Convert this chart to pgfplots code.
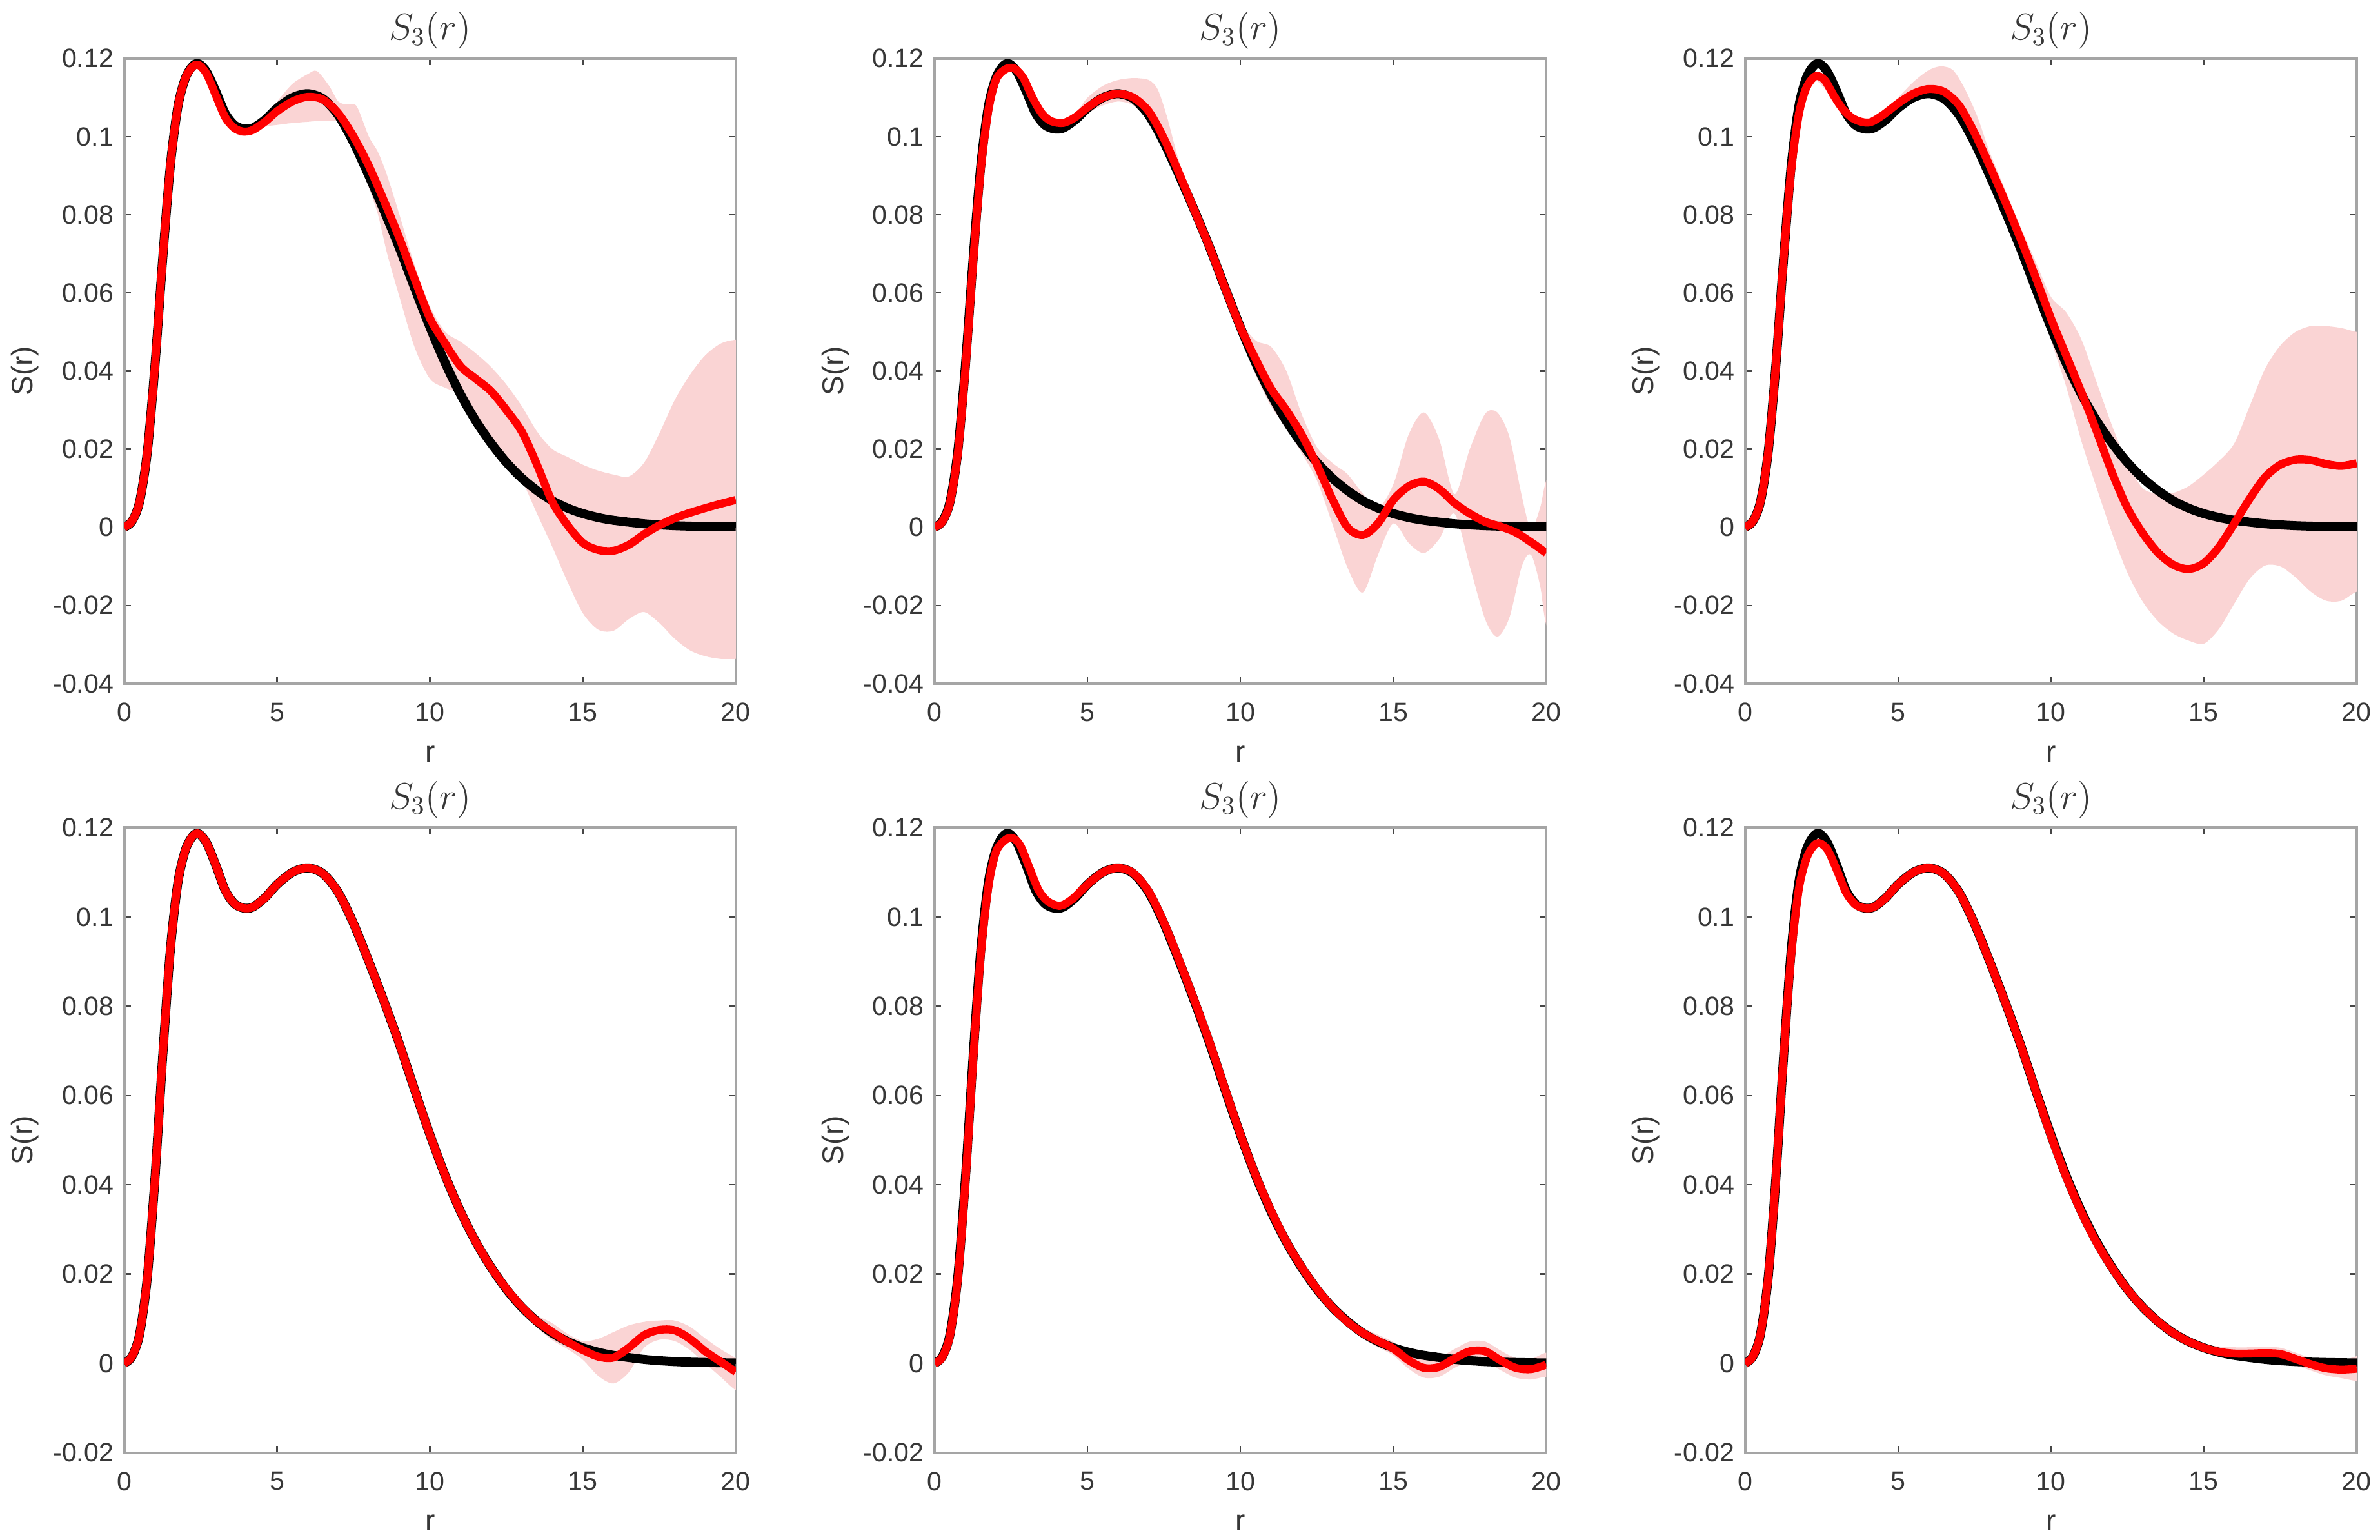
\documentclass[border=0pt]{standalone}
\usepackage{fontspec}
\setmainfont{Liberation Sans}
\usepackage{pgfplots}
\pgfplotsset{compat=1.18}

\definecolor{bandc}{RGB}{250,212,212}
\definecolor{axgray}{RGB}{165,165,165}
\definecolor{tickgray}{RGB}{70,70,70}
\definecolor{labgray}{RGB}{55,55,55}

\pgfplotsset{
  every axis title shift=0pt,
  panel/.style={
    scale only axis,
    width=237.5pt, height=242.75pt,
    anchor=south west,
    xmin=0, xmax=20,
    xtick={0,5,10,15,20},
    xticklabels={0,5,10,15,20},
    scaled ticks=false,
    axis line style={draw=axgray, line width=1pt},
    tick style={draw=tickgray, line width=0.6pt},
    major tick length=2.5pt,
    tick align=inside,
    xticklabel style={font=\fontsize{10.3}{12}\selectfont, text=labgray, yshift=-4pt},
    yticklabel style={font=\fontsize{10.3}{12}\selectfont, text=labgray, xshift=-0.6pt},
    xlabel={r}, ylabel={S(r)},
    xlabel style={at={(rel axis cs:0.5,-0.1125)}, anchor=center, font=\fontsize{11.5}{13}\selectfont, text=labgray},
    ylabel style={at={(rel axis cs:-0.162,0.5)}, anchor=center, font=\fontsize{11.5}{13}\selectfont, text=labgray},
    title={$S_3(r)$},
    title style={at={(rel axis cs:0.5,1.045)}, anchor=center, font=\fontsize{14}{16}\selectfont, text=labgray},
  },
  toprow/.style={
    ymin=-0.04, ymax=0.12,
    ytick={-0.04,-0.02,0,0.02,0.04,0.06,0.08,0.1,0.12},
    yticklabels={-0.04,-0.02,0,0.02,0.04,0.06,0.08,0.1,0.12},
  },
  botrow/.style={
    ymin=-0.02, ymax=0.12,
    ytick={-0.02,0,0.02,0.04,0.06,0.08,0.1,0.12},
    yticklabels={-0.02,0,0.02,0.04,0.06,0.08,0.1,0.12},
  },
  blkl/.style={black, line width=3.5pt, smooth},
  redl/.style={red, line width=3.1pt, smooth},
  bandf/.style={fill=bandc, draw=none, smooth},
}

\begin{document}
\begin{tikzpicture}
\path (0,0) rectangle (922.5pt,597pt);

% ================= panel 1 =================
\begin{axis}[panel, toprow, at={(48.25pt,331.5pt)}]
\addplot[bandf] table {
-0.8 0.0005
0 0.0005
0.5 0.007
1.0 0.042
1.5 0.093
2.0 0.116
2.45 0.1192
3.0 0.1115
3.6 0.1032
4.0 0.1025
4.6 0.1050
5.0 0.1090
5.5 0.1135
6.0 0.1160
6.3 0.1168
6.7 0.1130
7.0 0.1090
7.3 0.1082
7.6 0.1078
8.0 0.1000
8.3 0.0960
8.6 0.0900
9.0 0.0800
9.5 0.0670
10.0 0.0565
10.5 0.0500
11.0 0.0475
11.5 0.0445
12.0 0.0410
12.5 0.0365
13.0 0.0310
13.5 0.0245
14.0 0.0200
14.5 0.0180
15.0 0.0160
15.5 0.0145
16.0 0.0135
16.5 0.0130
17.0 0.0165
17.5 0.0240
18.0 0.0325
18.5 0.0390
19.0 0.0440
19.5 0.0470
20.0 0.0480
20.8 0.0480
20.8 -0.0337
20.0 -0.0337
19.5 -0.0337
19.0 -0.0330
18.5 -0.0315
18.0 -0.0285
17.5 -0.0245
17.0 -0.0217
16.5 -0.0235
16.0 -0.0265
15.5 -0.0262
15.0 -0.0220
14.5 -0.0140
14.0 -0.0050
13.5 0.0035
13.0 0.0120
12.5 0.0170
12.0 0.0225
11.5 0.0290
11.0 0.0340
10.5 0.0357
10.0 0.0380
9.5 0.0460
9.0 0.0590
8.6 0.0700
8.3 0.0800
8.0 0.0870
7.6 0.0960
7.3 0.1020
7.0 0.1040
6.7 0.1040
6.3 0.1040
6.0 0.1038
5.5 0.1035
5.0 0.1030
4.6 0.1025
4.0 0.1003
3.6 0.1012
3.0 0.1095
2.45 0.1175
2.0 0.114
1.5 0.091
1.0 0.040
0.5 0.006
0 -0.0005
-0.8 -0.0005
};
\addplot[blkl] table {
0 0
0.25 0.0015
0.5 0.0065
0.75 0.019
1.0 0.041
1.25 0.068
1.5 0.092
1.75 0.1075
2.0 0.1150
2.25 0.1182
2.45 0.1186
2.7 0.1165
3.0 0.1115
3.3 0.1060
3.6 0.1030
3.9 0.1020
4.2 0.1022
4.6 0.1043
5.0 0.1073
5.5 0.1100
6.0 0.1110
6.5 0.1097
7.0 0.1055
7.5 0.0985
8.0 0.0900
8.5 0.0810
9.0 0.0715
9.5 0.0612
10.0 0.0512
10.5 0.0420
11.0 0.0340
11.5 0.0272
12.0 0.0215
12.5 0.0166
13.0 0.0126
13.5 0.0094
14.0 0.0068
14.5 0.0049
15.0 0.0035
15.5 0.0025
16.0 0.0018
17.0 0.0009
18.0 0.0004
19.0 0.0002
20.0 0.0001
};
\addplot[redl] table {
0 0
0.25 0.0015
0.5 0.0065
0.75 0.019
1.0 0.041
1.25 0.068
1.5 0.092
1.75 0.1075
2.0 0.1150
2.25 0.1180
2.45 0.1183
2.7 0.1160
3.0 0.1105
3.3 0.1050
3.6 0.1022
3.9 0.1013
4.2 0.1017
4.6 0.1038
5.0 0.1065
5.5 0.1090
6.0 0.1102
6.5 0.1095
7.0 0.1060
7.5 0.1000
8.0 0.0925
8.5 0.0835
9.0 0.0740
9.5 0.0635
10.0 0.0535
10.5 0.0470
11.0 0.0412
11.5 0.0380
12.0 0.0348
12.5 0.0300
13.0 0.0245
13.5 0.0160
14.0 0.0065
14.5 0.0005
15.0 -0.0040
15.5 -0.0058
16.0 -0.0060
16.5 -0.0045
17.0 -0.0018
17.5 0.0005
18.0 0.0023
18.5 0.0037
19.0 0.0049
19.5 0.0060
20.0 0.0070
};
\end{axis}

% ================= panel 2 =================
\begin{axis}[panel, toprow, at={(363pt,331.5pt)}]
\addplot[bandf] table {
-0.8 0.0005
0 0.0005
0.5 0.0065
1.0 0.041
1.5 0.091
2.0 0.1150
2.6 0.1185
3.2 0.111
3.8 0.105
4.2 0.1045
4.6 0.106
5.0 0.110
5.5 0.113
6.0 0.1145
6.5 0.1150
7.0 0.1145
7.3 0.112
7.6 0.105
8.0 0.0935
8.5 0.0835
9.0 0.0740
9.5 0.0635
10.0 0.0530
10.5 0.0478
11.0 0.0462
11.5 0.0400
12.0 0.0290
12.5 0.0205
13.0 0.0165
13.5 0.0136
14.0 0.0086
14.5 0.0050
15.0 0.0110
15.5 0.0237
16.0 0.0294
16.5 0.0225
17.0 0.0085
17.5 0.0200
18.0 0.0290
18.4 0.0294
18.8 0.0230
19.2 0.0080
19.5 -0.0005
19.8 0.0050
20.0 0.0120
20.6 0.0250
20.6 -0.0400
20.0 -0.0250
19.8 -0.0150
19.5 -0.0070
19.2 -0.0100
18.8 -0.0230
18.4 -0.0280
18.0 -0.0235
17.5 -0.0100
17.0 0.0035
16.5 -0.0030
16.0 -0.0066
15.5 -0.0040
15.0 0.0010
14.5 -0.0070
14.0 -0.0167
13.5 -0.0103
13.0 0.0010
12.5 0.0120
12.0 0.0190
11.5 0.0255
11.0 0.0310
10.5 0.0390
10.0 0.0485
9.5 0.0590
9.0 0.0700
8.5 0.0795
8.0 0.0885
7.6 0.097
7.3 0.101
7.0 0.104
6.5 0.108
6.0 0.109
5.5 0.108
5.0 0.106
4.6 0.104
4.2 0.1025
3.8 0.103
3.2 0.109
2.6 0.1165
2.0 0.1135
1.5 0.089
1.0 0.039
0.5 0.0055
0 -0.0005
-0.8 -0.0005
};
\addplot[blkl] table {
0 0
0.25 0.0015
0.5 0.0065
0.75 0.019
1.0 0.041
1.25 0.068
1.5 0.092
1.75 0.1075
2.0 0.1150
2.25 0.1182
2.45 0.1186
2.7 0.1165
3.0 0.1115
3.3 0.1060
3.6 0.1030
3.9 0.1020
4.2 0.1022
4.6 0.1043
5.0 0.1073
5.5 0.1100
6.0 0.1110
6.5 0.1097
7.0 0.1055
7.5 0.0985
8.0 0.0900
8.5 0.0810
9.0 0.0715
9.5 0.0612
10.0 0.0512
10.5 0.0420
11.0 0.0340
11.5 0.0272
12.0 0.0215
12.5 0.0166
13.0 0.0126
13.5 0.0094
14.0 0.0068
14.5 0.0049
15.0 0.0035
15.5 0.0025
16.0 0.0018
17.0 0.0009
18.0 0.0004
19.0 0.0002
20.0 0.0001
};
\addplot[redl] table {
0 0
0.25 0.0014
0.5 0.0063
0.75 0.0185
1.0 0.040
1.25 0.0670
1.5 0.0910
1.75 0.1065
2.0 0.1145
2.3 0.1172
2.6 0.1175
2.9 0.1150
3.2 0.1100
3.5 0.1060
3.8 0.1040
4.2 0.1035
4.6 0.1050
5.0 0.1075
5.5 0.1100
6.0 0.1110
6.5 0.1100
7.0 0.1065
7.5 0.0995
8.0 0.0905
8.5 0.0810
9.0 0.0715
9.5 0.0612
10.0 0.0512
10.5 0.0430
11.0 0.0355
11.5 0.0300
12.0 0.0237
12.5 0.0160
13.0 0.0073
13.5 0.0000
14.0 -0.0020
14.5 0.0010
15.0 0.0070
15.5 0.0105
16.0 0.0117
16.5 0.0098
17.0 0.0062
17.5 0.0035
18.0 0.0014
18.5 0.0002
19.0 -0.0013
19.5 -0.0038
20.0 -0.0066
};
\end{axis}

% ================= panel 3 =================
\begin{axis}[panel, toprow, at={(677.75pt,331.5pt)}]
\addplot[bandf] table {
-0.8 0.0005
0 0.0005
0.5 0.007
1.0 0.042
1.5 0.092
2.0 0.1135
2.3 0.1165
2.9 0.1115
3.5 0.1058
4.1 0.1047
4.6 0.1070
5.0 0.1100
5.5 0.1140
6.0 0.1170
6.4 0.1180
6.8 0.1170
7.2 0.1120
7.6 0.1050
8.0 0.0960
8.5 0.0865
9.0 0.0770
9.5 0.0680
10.0 0.0590
10.5 0.0550
11.0 0.0480
11.5 0.0370
12.0 0.0260
12.5 0.0165
13.0 0.0100
13.5 0.0086
14.0 0.0088
14.5 0.0105
15.0 0.0135
15.5 0.0170
16.0 0.0215
16.5 0.0310
17.0 0.0405
17.5 0.0465
18.0 0.0500
18.5 0.0515
19.0 0.0515
19.5 0.0510
20.0 0.0500
20.8 0.0490
20.8 -0.0150
20.0 -0.0165
19.5 -0.0188
19.0 -0.0188
18.5 -0.0165
18.0 -0.0128
17.5 -0.0100
17.0 -0.0098
16.5 -0.0132
16.0 -0.0195
15.5 -0.0260
15.0 -0.0298
14.5 -0.0290
14.0 -0.0272
13.5 -0.0240
13.0 -0.0190
12.5 -0.0116
12.0 -0.0015
11.5 0.0100
11.0 0.0220
10.5 0.0360
10.0 0.0480
9.5 0.0610
9.0 0.0715
8.5 0.0810
8.0 0.0900
7.6 0.0970
7.2 0.1030
6.8 0.1080
6.4 0.1100
6.0 0.1100
5.5 0.1090
5.0 0.1070
4.6 0.1045
4.1 0.1027
3.5 0.1038
2.9 0.1095
2.3 0.1145
2.0 0.1115
1.5 0.090
1.0 0.040
0.5 0.006
0 -0.0005
-0.8 -0.0005
};
\addplot[blkl] table {
0 0
0.25 0.0015
0.5 0.0065
0.75 0.019
1.0 0.041
1.25 0.068
1.5 0.092
1.75 0.1075
2.0 0.1150
2.25 0.1182
2.45 0.1186
2.7 0.1165
3.0 0.1115
3.3 0.1060
3.6 0.1030
3.9 0.1020
4.2 0.1022
4.6 0.1043
5.0 0.1073
5.5 0.1100
6.0 0.1110
6.5 0.1097
7.0 0.1055
7.5 0.0985
8.0 0.0900
8.5 0.0810
9.0 0.0715
9.5 0.0612
10.0 0.0512
10.5 0.0420
11.0 0.0340
11.5 0.0272
12.0 0.0215
12.5 0.0166
13.0 0.0126
13.5 0.0094
14.0 0.0068
14.5 0.0049
15.0 0.0035
15.5 0.0025
16.0 0.0018
17.0 0.0009
18.0 0.0004
19.0 0.0002
20.0 0.0001
};
\addplot[redl] table {
0 0
0.25 0.0015
0.5 0.0065
0.75 0.019
1.0 0.041
1.25 0.068
1.5 0.091
1.75 0.1055
2.0 0.1125
2.3 0.1155
2.6 0.1145
2.9 0.1105
3.2 0.1070
3.5 0.1048
3.8 0.1038
4.1 0.1037
4.5 0.1055
5.0 0.1085
5.5 0.1110
6.0 0.1122
6.5 0.1115
7.0 0.1080
7.5 0.1010
8.0 0.0925
8.5 0.0835
9.0 0.0740
9.5 0.0640
10.0 0.0535
10.5 0.0440
11.0 0.0345
11.5 0.0245
12.0 0.0140
12.5 0.0050
13.0 -0.0015
13.5 -0.0065
14.0 -0.0096
14.5 -0.0107
15.0 -0.0092
15.5 -0.0050
16.0 0.0010
16.5 0.0073
17.0 0.0128
17.5 0.0160
18.0 0.0173
18.5 0.0172
19.0 0.0162
19.5 0.0157
20.0 0.0164
};
\end{axis}

% ================= panel 4 =================
\begin{axis}[panel, botrow, at={(48.25pt,32.75pt)}]
\addplot[bandf] table {
12.5 0.0176
13.0 0.0136
13.5 0.0108
14.0 0.0090
14.5 0.0066
15.0 0.0050
15.5 0.0055
16.0 0.0070
16.5 0.0085
17.0 0.0093
17.5 0.0096
18.0 0.0096
18.5 0.0082
19.0 0.0056
19.5 0.0032
20.0 0.0012
20.8 -0.0020
20.8 -0.0090
20.0 -0.0060
19.5 -0.0030
19.0 0.0000
18.5 0.0030
18.0 0.0050
17.5 0.0053
17.0 0.0035
16.5 -0.0020
16.0 -0.0045
15.5 -0.0028
15.0 0.0008
14.5 0.0032
14.0 0.0052
13.5 0.0080
13.0 0.0116
12.5 0.0158
};
\addplot[blkl] table {
0 0
0.25 0.0015
0.5 0.0065
0.75 0.019
1.0 0.041
1.25 0.068
1.5 0.092
1.75 0.1075
2.0 0.1150
2.25 0.1182
2.45 0.1186
2.7 0.1165
3.0 0.1115
3.3 0.1060
3.6 0.1030
3.9 0.1020
4.2 0.1022
4.6 0.1043
5.0 0.1073
5.5 0.1100
6.0 0.1110
6.5 0.1097
7.0 0.1055
7.5 0.0985
8.0 0.0900
8.5 0.0810
9.0 0.0715
9.5 0.0612
10.0 0.0512
10.5 0.0420
11.0 0.0340
11.5 0.0272
12.0 0.0215
12.5 0.0166
13.0 0.0126
13.5 0.0094
14.0 0.0068
14.5 0.0049
15.0 0.0035
15.5 0.0025
16.0 0.0018
17.0 0.0009
18.0 0.0004
19.0 0.0002
20.0 0.0001
};
\addplot[redl] table {
0 0
0.25 0.0015
0.5 0.0065
0.75 0.019
1.0 0.041
1.25 0.068
1.5 0.092
1.75 0.1075
2.0 0.1150
2.25 0.1182
2.45 0.1186
2.7 0.1165
3.0 0.1115
3.3 0.1060
3.6 0.1030
3.9 0.1020
4.2 0.1022
4.6 0.1043
5.0 0.1073
5.5 0.1100
6.0 0.1110
6.5 0.1097
7.0 0.1055
7.5 0.0985
8.0 0.0900
8.5 0.0810
9.0 0.0715
9.5 0.0612
10.0 0.0512
10.5 0.0420
11.0 0.0340
11.5 0.0272
12.0 0.0215
12.5 0.0167
13.0 0.0127
13.5 0.0094
14.0 0.0070
14.5 0.0048
15.0 0.0030
15.5 0.0015
16.0 0.0013
16.5 0.0035
17.0 0.0063
17.5 0.0075
18.0 0.0074
18.5 0.0055
19.0 0.0027
19.5 0.0004
20.0 -0.0019
};
\end{axis}

% ================= panel 5 =================
\begin{axis}[panel, botrow, at={(363pt,32.75pt)}]
\addplot[bandf] table {
13.0 0.0134
13.5 0.0103
14.0 0.0080
14.5 0.0064
15.0 0.0048
15.5 0.0026
16.0 0.0012
16.5 0.0014
17.0 0.0032
17.5 0.0049
18.0 0.0049
18.5 0.0029
19.0 0.0012
19.5 0.0010
20.0 0.0024
20.8 0.0030
20.8 -0.0030
20.0 -0.0030
19.5 -0.0036
19.0 -0.0032
18.5 -0.0015
18.0 0.0005
17.5 0.0005
17.0 -0.0010
16.5 -0.0030
16.0 -0.0032
15.5 -0.0012
15.0 0.0018
14.5 0.0036
14.0 0.0056
13.5 0.0083
13.0 0.0118
};
\addplot[blkl] table {
0 0
0.25 0.0015
0.5 0.0065
0.75 0.019
1.0 0.041
1.25 0.068
1.5 0.092
1.75 0.1075
2.0 0.1150
2.25 0.1182
2.45 0.1186
2.7 0.1165
3.0 0.1115
3.3 0.1060
3.6 0.1030
3.9 0.1020
4.2 0.1022
4.6 0.1043
5.0 0.1073
5.5 0.1100
6.0 0.1110
6.5 0.1097
7.0 0.1055
7.5 0.0985
8.0 0.0900
8.5 0.0810
9.0 0.0715
9.5 0.0612
10.0 0.0512
10.5 0.0420
11.0 0.0340
11.5 0.0272
12.0 0.0215
12.5 0.0166
13.0 0.0126
13.5 0.0094
14.0 0.0068
14.5 0.0049
15.0 0.0035
15.5 0.0025
16.0 0.0018
17.0 0.0009
18.0 0.0004
19.0 0.0002
20.0 0.0001
};
\addplot[redl] table {
0 0
0.25 0.0014
0.5 0.0063
0.75 0.0185
1.0 0.040
1.25 0.0670
1.5 0.0910
1.75 0.1065
2.0 0.1145
2.3 0.1172
2.55 0.1177
2.8 0.1160
3.1 0.1110
3.4 0.1060
3.7 0.1035
4.1 0.1025
4.5 0.1040
5.0 0.1073
5.5 0.1100
6.0 0.1110
6.5 0.1098
7.0 0.1057
7.5 0.0987
8.0 0.0902
8.5 0.0812
9.0 0.0717
9.5 0.0614
10.0 0.0513
10.5 0.0421
11.0 0.0342
11.5 0.0273
12.0 0.0216
12.5 0.0167
13.0 0.0126
13.5 0.0093
14.0 0.0068
14.5 0.0050
15.0 0.0033
15.5 0.0007
16.0 -0.0010
16.5 -0.0008
17.0 0.0011
17.5 0.0027
18.0 0.0027
18.5 0.0007
19.0 -0.0010
19.5 -0.0013
20.0 -0.0003
};
\end{axis}

% ================= panel 6 =================
\begin{axis}[panel, botrow, at={(677.75pt,32.75pt)}]
\addplot[bandf] table {
14.0 0.0076
15.0 0.0043
15.5 0.0038
16.0 0.0036
16.5 0.0036
17.0 0.0037
17.5 0.0035
18.0 0.0024
18.5 0.0012
19.0 0.0005
19.5 0.0005
20.0 0.0016
20.8 0.0025
20.8 -0.0050
20.0 -0.0040
19.5 -0.0033
19.0 -0.0027
18.5 -0.0016
18.0 -0.0004
17.5 0.0007
17.0 0.0009
16.5 0.0008
16.0 0.0008
15.5 0.0014
15.0 0.0027
14.0 0.0060
};
\addplot[blkl] table {
0 0
0.25 0.0015
0.5 0.0065
0.75 0.019
1.0 0.041
1.25 0.068
1.5 0.092
1.75 0.1075
2.0 0.1150
2.25 0.1182
2.45 0.1186
2.7 0.1165
3.0 0.1115
3.3 0.1060
3.6 0.1030
3.9 0.1020
4.2 0.1022
4.6 0.1043
5.0 0.1073
5.5 0.1100
6.0 0.1110
6.5 0.1097
7.0 0.1055
7.5 0.0985
8.0 0.0900
8.5 0.0810
9.0 0.0715
9.5 0.0612
10.0 0.0512
10.5 0.0420
11.0 0.0340
11.5 0.0272
12.0 0.0215
12.5 0.0166
13.0 0.0126
13.5 0.0094
14.0 0.0068
14.5 0.0049
15.0 0.0035
15.5 0.0025
16.0 0.0018
17.0 0.0009
18.0 0.0004
19.0 0.0002
20.0 0.0001
};
\addplot[redl] table {
0 0
0.25 0.0015
0.5 0.0065
0.75 0.019
1.0 0.041
1.25 0.068
1.5 0.091
1.75 0.1060
2.0 0.1130
2.25 0.1160
2.45 0.1165
2.7 0.1150
3.0 0.1105
3.3 0.1055
3.6 0.1028
3.9 0.1020
4.2 0.1022
4.6 0.1043
5.0 0.1073
5.5 0.1100
6.0 0.1110
6.5 0.1097
7.0 0.1055
7.5 0.0985
8.0 0.0900
8.5 0.0810
9.0 0.0715
9.5 0.0612
10.0 0.0510
10.5 0.0418
11.0 0.0338
11.5 0.0270
12.0 0.0214
12.5 0.0166
13.0 0.0126
13.5 0.0094
14.0 0.0068
14.5 0.0049
15.0 0.0035
15.5 0.0026
16.0 0.0022
16.5 0.0022
17.0 0.0023
17.5 0.0021
18.0 0.0010
18.5 -0.0002
19.0 -0.0011
19.5 -0.0014
20.0 -0.0012
};
\end{axis}
\end{tikzpicture}
\end{document}
